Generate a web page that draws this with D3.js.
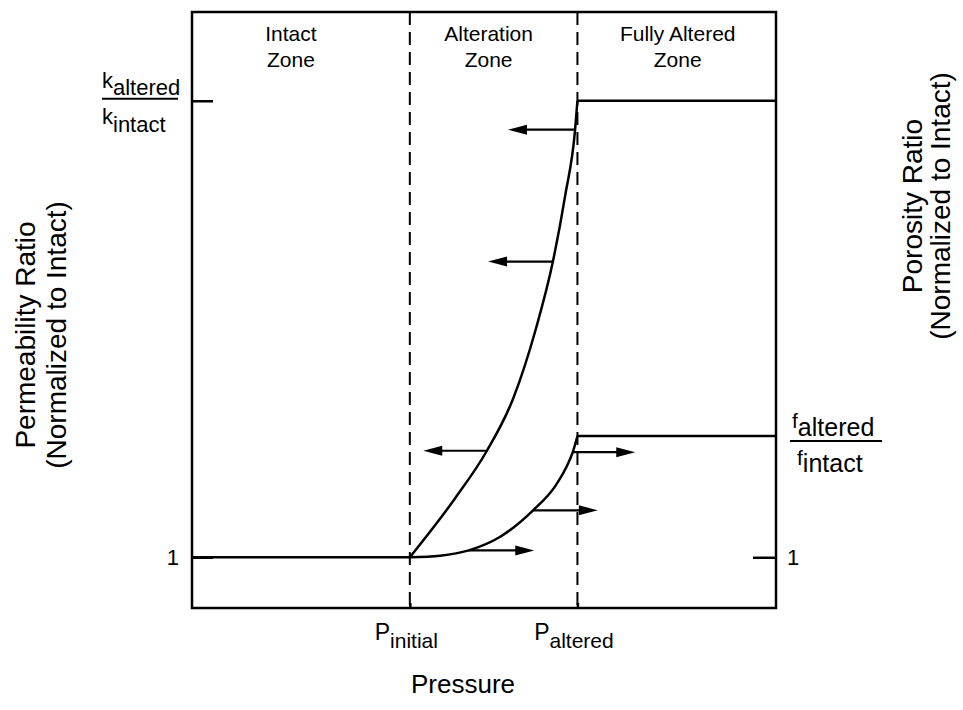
<!DOCTYPE html>
<html>
<head>
<meta charset="utf-8">
<script src="https://cdn.jsdelivr.net/npm/d3@7"></script>
<style>
  body { margin: 0; background: #fff; }
  svg { display: block; font-family: "Liberation Sans", Arial, Helvetica, sans-serif; }
</style>
</head>
<body>
<svg id="chart" width="963" height="710"></svg>
<script>
// Pressure levels bounding the alteration zone (arbitrary pressure units)
const P_INITIAL = 3.73;
const P_ALTERED = 6.6;
const P_MAX = 10;

// Ratio levels, normalized to the intact rock
const K_ALTERED = 10;
const F_ALTERED = 1.3;

// Permeability ratio across the alteration zone
const permPressure = [3.73, 4.50, 5.05, 5.50, 5.89, 6.18, 6.39, 6.56, 6.6];
const permRatio    = [1, 2.155, 3.10, 4.13, 5.51, 6.83, 8.13, 9.43, 10];

// Porosity ratio across the alteration zone
const poroPressure = [3.73, 4.25, 4.74, 5.27, 5.84, 6.22, 6.40, 6.52, 6.6];
const poroRatio    = [1, 1.004, 1.017, 1.050, 1.116, 1.176, 1.220, 1.260, 1.3];

// Direction arrows on the permeability curve (point toward lower pressure)
const permArrowRatio = [9.43, 6.83, 3.10];
const permArrowFrom  = [6.56, 6.18, 5.05];
const permArrowTo    = [5.41, 5.07, 3.96];

// Direction arrows on the porosity curve (point toward higher pressure)
const poroArrowRatio = [1.017, 1.116, 1.26];
const poroArrowFrom  = [4.74, 5.84, 6.52];
const poroArrowTo    = [5.86, 6.95, 7.59];

// Zone captions
const zoneNames  = [["Intact", "Zone"], ["Alteration", "Zone"], ["Fully Altered", "Zone"]];
const zoneBounds = [[0, P_INITIAL], [P_INITIAL, P_ALTERED], [P_ALTERED, P_MAX]];
const zoneShift  = [-10, -5, 1];

const svg = d3.select("#chart");
const frame = { left: 192, right: 776, top: 12, bottom: 608 };

const x  = d3.scaleLinear().domain([0, P_MAX]).range([frame.left, frame.right]);
const yK = d3.scaleLinear().domain([0, 11.75]).range([frame.bottom, frame.top]);
const yF = d3.scaleLinear().domain([0.8745, 2.3488]).range([frame.bottom, frame.top]);

// Frame
svg.append("rect")
  .attr("x", frame.left).attr("y", frame.top)
  .attr("width", frame.right - frame.left).attr("height", frame.bottom - frame.top)
  .attr("fill", "none").attr("stroke", "#000").attr("stroke-width", 2.5);

// Zone boundaries
svg.selectAll("line.zone")
  .data([P_INITIAL, P_ALTERED])
  .join("line")
  .attr("class", "zone")
  .attr("x1", d => x(d)).attr("x2", d => x(d))
  .attr("y1", frame.top).attr("y2", frame.bottom)
  .attr("stroke", "#000").attr("stroke-width", 2)
  .attr("stroke-dasharray", "13,7");

// Zone captions
zoneNames.forEach((lines, i) => {
  const cx = (x(zoneBounds[i][0]) + x(zoneBounds[i][1])) / 2 + zoneShift[i];
  const t = svg.append("text")
    .attr("text-anchor", "middle")
    .attr("font-size", 21);
  lines.forEach((s, j) => {
    t.append("tspan").attr("x", cx).attr("y", 41 + j * 26).text(s);
  });
});

// Axes
const axLeft = svg.append("g")
  .attr("transform", `translate(${frame.left},0)`)
  .call(d3.axisLeft(yK).tickValues([1, K_ALTERED]).tickSizeInner(-21).tickSizeOuter(0)
    .tickPadding(13).tickFormat(d => d === 1 ? "1" : ""));
const axRight = svg.append("g")
  .attr("transform", `translate(${frame.right},0)`)
  .call(d3.axisRight(yF).tickValues([1]).tickSizeInner(-23).tickSizeOuter(0)
    .tickPadding(11).tickFormat(() => "1"));
const axBottom = svg.append("g")
  .attr("transform", `translate(0,${frame.bottom})`)
  .call(d3.axisBottom(x).tickValues([P_INITIAL, P_ALTERED]).tickSizeInner(-5).tickSizeOuter(0)
    .tickFormat(""));
[axLeft, axRight, axBottom].forEach(g => {
  g.select(".domain").remove();
  g.selectAll(".tick line").attr("stroke", "#000").attr("stroke-width", 2.5);
  g.selectAll(".tick text").attr("fill", "#000").attr("font-size", 22)
    .attr("font-family", "Liberation Sans, Arial, sans-serif");
});

// Pressure tick labels with subscripts
const pLabels = [["P", "initial"], ["P", "altered"]];
axBottom.selectAll(".tick").each(function (d, i) {
  const t = d3.select(this).append("text")
    .attr("text-anchor", "middle").attr("fill", "#000")
    .attr("x", -4).attr("y", 32).attr("font-size", 23)
    .attr("font-family", "Liberation Sans, Arial, sans-serif");
  t.append("tspan").text(pLabels[i][0]);
  t.append("tspan").attr("dy", 8).attr("font-size", 21).text(pLabels[i][1]);
});

// Level lines and curves
const linePx = d3.line().x(d => x(d[0])).y(d => d[1]);
const levelStyle = sel => sel.attr("fill", "none").attr("stroke", "#000").attr("stroke-width", 2.5);

svg.append("path").call(levelStyle)
  .attr("d", linePx([[0, yK(1)], [P_INITIAL, yK(1)]]));
svg.append("path").call(levelStyle)
  .attr("d", linePx([[P_ALTERED, yK(K_ALTERED)], [P_MAX, yK(K_ALTERED)]]));
svg.append("path").call(levelStyle)
  .attr("d", linePx([[P_ALTERED, yF(F_ALTERED)], [P_MAX, yF(F_ALTERED)]]));

const permCurve = d3.line().curve(d3.curveMonotoneX)
  .x((d, i) => x(permPressure[i])).y((d, i) => yK(permRatio[i]));
svg.append("path").call(levelStyle).attr("d", permCurve(permPressure));

const poroCurve = d3.line().curve(d3.curveMonotoneX)
  .x((d, i) => x(poroPressure[i])).y((d, i) => yF(poroRatio[i]));
svg.append("path").call(levelStyle).attr("d", poroCurve(poroPressure));

// Arrows
function arrow(x0, x1, y) {
  const dir = Math.sign(x1 - x0), head = 19, half = 5;
  svg.append("line")
    .attr("x1", x0).attr("x2", x1 - dir * head * 0.8)
    .attr("y1", y).attr("y2", y)
    .attr("stroke", "#000").attr("stroke-width", 2.2);
  const p = d3.path();
  p.moveTo(x1, y);
  p.lineTo(x1 - dir * head, y - half);
  p.lineTo(x1 - dir * head, y + half);
  p.closePath();
  svg.append("path").attr("d", p.toString()).attr("fill", "#000");
}
permArrowRatio.forEach((r, i) => arrow(x(permArrowFrom[i]), x(permArrowTo[i]), yK(r)));
poroArrowRatio.forEach((r, i) => arrow(x(poroArrowFrom[i]), x(poroArrowTo[i]), yF(r)));

// Fraction labels for the altered levels
function fraction(xStart, xEnd, yLine, sym, symSize, subSize, upper, lower) {
  svg.append("line").attr("x1", xStart).attr("x2", xEnd)
    .attr("y1", yLine).attr("y2", yLine)
    .attr("stroke", "#000").attr("stroke-width", 2);
  [upper, lower].forEach(o => {
    const t = svg.append("text").attr("x", xStart + o.dx).attr("y", o.y)
      .attr("font-size", symSize);
    t.append("tspan").text(sym);
    t.append("tspan").attr("dy", o.sub).attr("font-size", subSize).text(o.text);
  });
}
fraction(102, 178, yK(K_ALTERED) - 2, "k", 22, 22,
  { dx: 0, y: 88, sub: 7, text: "altered" },
  { dx: 0, y: 124, sub: 8, text: "intact" });
fraction(790, 882, yF(F_ALTERED) + 5, "f", 21, 25,
  { dx: 2, y: 428, sub: 8, text: "altered" },
  { dx: 7, y: 465, sub: 7, text: "intact" });

// Axis titles
svg.append("text").attr("text-anchor", "middle").attr("font-size", 26)
  .attr("x", 463).attr("y", 693).text("Pressure");

function vTitle(cx, cy, lines, gap) {
  lines.forEach((s, i) => {
    svg.append("text")
      .attr("text-anchor", "middle").attr("font-size", 28)
      .attr("transform", `translate(${cx + i * gap},${cy}) rotate(-90)`)
      .text(s);
  });
}
vTitle(35, 335, ["Permeability Ratio", "(Normalized to Intact)"], 31);
vTitle(922, 206, ["Porosity Ratio", "(Normalized to Intact)"], 28);
</script>
</body>
</html>
